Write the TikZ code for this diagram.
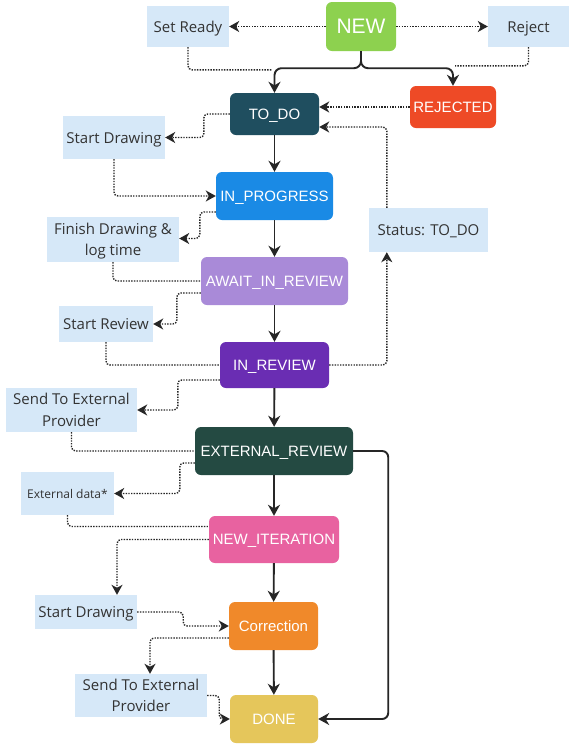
\documentclass[tikz,border=0pt]{standalone}
\usepackage{fontspec}
\setmainfont{Open Sans}
\newfontfamily\arialf{Liberation Sans}
\usetikzlibrary{arrows.meta,calc}
\definecolor{cnew}{HTML}{8DD14F}
\definecolor{ctodo}{HTML}{1F4E5F}
\definecolor{crej}{HTML}{EE4A26}
\definecolor{cprog}{HTML}{1A8AE5}
\definecolor{cawait}{HTML}{A98AD8}
\definecolor{crev}{HTML}{6A2DB3}
\definecolor{cext}{HTML}{244A42}
\definecolor{citer}{HTML}{E862A0}
\definecolor{ccorr}{HTML}{F0892A}
\definecolor{cdone}{HTML}{E5C65B}
\definecolor{lblue}{HTML}{D6E8F8}
\definecolor{ltxt}{HTML}{333333}
\definecolor{lnk}{HTML}{262626}
\tikzset{
  state/.style={rounded corners=6pt, text=white, inner sep=0pt, text depth=0pt,
    font=\arialf\fontsize{15}{18}\selectfont},
  lbl/.style={fill=lblue, text=ltxt, inner sep=0pt, align=center, text depth=0pt,
    font=\fontsize{15}{21.5}\selectfont},
  flow/.style={draw=lnk, line width=1.9pt, -{Stealth[length=11pt,width=12pt,inset=3.5pt]}},
  dotarrow/.style={draw=lnk, line width=1.4pt, dash pattern=on 1.4pt off 1.3pt,
    rounded corners=4pt, -{Stealth[length=10pt,width=11pt,inset=3pt]}},
  dotline/.style={draw=lnk, line width=1.4pt, dash pattern=on 1.4pt off 1.3pt,
    rounded corners=4pt},
}
\begin{document}
\begin{tikzpicture}[x=1pt,y=-1pt]
\fill[white] (0,0) rectangle (574,748);
\useasboundingbox (0,0) rectangle (574,748);

% states
\node[state, fill=cnew, minimum width=70pt, minimum height=49pt,
  font=\arialf\fontsize{21}{24}\selectfont] (new) at (361,26.5) {NEW};
\node[state, fill=ctodo, minimum width=89pt, minimum height=42pt] (todo) at (274.5,114) {TO\_DO};
\node[state, fill=crej, minimum width=86pt, minimum height=42pt] (rejected) at (453,107) {REJECTED};
\node[state, fill=cprog, minimum width=117pt, minimum height=48pt] (inprogress) at (274.5,196) {IN\_PROGRESS};
\node[state, fill=cawait, minimum width=147pt, minimum height=48pt] (await) at (274.5,281) {AWAIT\_IN\_REVIEW};
\node[state, fill=crev, minimum width=109pt, minimum height=46pt] (inreview) at (274.5,365) {IN\_REVIEW};
\node[state, fill=cext, minimum width=158pt, minimum height=48pt] (external) at (274,451) {EXTERNAL\_REVIEW};
\node[state, fill=citer, minimum width=130pt, minimum height=47pt] (newiter) at (274,539.5) {NEW\_ITERATION};
\node[state, fill=ccorr, minimum width=89pt, minimum height=48pt] (correction) at (273.5,626) {Correction};
\node[state, fill=cdone, minimum width=88pt, minimum height=48pt] (done) at (274,719) {DONE};

% labels
\node[lbl, minimum width=82pt, minimum height=41pt] (setready) at (188,26.5) {Set Ready};
\node[lbl, minimum width=81pt, minimum height=41pt] (reject) at (528.5,26.5) {Reject};
\node[lbl, minimum width=119pt, minimum height=44pt] (status) at (428.5,230) {Status: TO\_DO};
\node[lbl, minimum width=102pt, minimum height=43pt] (sd1) at (114,137.5) {Start Drawing};
\node[lbl, minimum width=132pt, minimum height=45pt] (finish) at (113,239.5) {Finish Drawing \&\\log time};
\node[lbl, minimum width=94pt, minimum height=36pt] (startreview) at (106,324) {Start Review};
\node[lbl, minimum width=131pt, minimum height=44pt] (send1) at (71.5,410) {Send To External\\Provider};
\node[lbl, minimum width=93pt, minimum height=43pt, font=\fontsize{12}{14}\selectfont] (extdata) at (67.5,493.5) {External data*};
\node[lbl, minimum width=102pt, minimum height=34pt] (sd2) at (86,612) {Start Drawing};
\node[lbl, minimum width=132pt, minimum height=43pt] (send2) at (141,695.5) {Send To External\\Provider};

% main solid flow
\draw[flow, rounded corners=7pt] (new.south) -- ++(0,17) -| (todo.north);
\draw[flow, rounded corners=7pt] (new.south) -- ++(0,17) -| (rejected.north);
\draw[flow] (todo) -- (inprogress);
\draw[flow] (inprogress) -- (await);
\draw[flow] (await) -- (inreview);
\draw[flow] (inreview) -- (external);
\draw[flow] (external) -- (newiter);
\draw[flow] (newiter) -- (correction);
\draw[flow] (correction) -- (done);
\draw[flow, rounded corners=6pt] (external.east) -- ++(35,0) |- (done.east);

% dotted connectors
\draw[dotarrow] (new.west) -- (setready.east);
\draw[dotarrow] (new.east) -- (reject.west);
\draw[dotline] (setready.south) |- ($(todo.north)+(-2,-23)$);
\draw[dotline] (reject.south) |- ($(rejected.north)+(2,-20)$);
\draw[dotarrow] (rejected.west) -- (rejected.west -| todo.east);
\draw[dotarrow] ($(status.north west)+(18,0)$) |- ($(todo.east)+(0,13)$);
\draw[dotarrow] (inreview.east) -| ($(status.south west)+(18,0)$);
\draw[dotarrow] (todo.west) -- ++(-26,0) |- (sd1.east);
\draw[dotarrow] (sd1.south) |- (inprogress.west);
\draw[dotarrow] ($(inprogress.west)+(0,16)$) -- ++(-16,0) |- ($(finish.east)+(0,-1)$);
\draw[dotline] (finish.south) |- (await.west);
\draw[dotarrow] ($(await.west)+(0,12)$) -- ++(-24,0) |- (startreview.east);
\draw[dotline] (startreview.south) |- (inreview.west);
\draw[dotarrow] ($(inreview.west)+(0,15)$) -- ++(-42,0) |- (send1.east);
\draw[dotline] (send1.south) |- (external.west);
\draw[dotarrow] ($(external.west)+(0,12)$) -- ++(-15,0) |- (extdata.east);
\draw[dotline] (extdata.south) |- ($(newiter.west)+(0,-13)$);
\draw[dotarrow] (newiter.west) -| ($(sd2.north)+(31,0)$);
\draw[dotarrow] (sd2.east) -- ++(46,0) |- (correction.west);
\draw[dotarrow] ($(correction.west)+(0,12)$) -| ($(send2.north)+(9,0)$);
\draw[dotarrow] (send2.east) -- ++(12,0) |- (done.west);
\end{tikzpicture}
\end{document}
